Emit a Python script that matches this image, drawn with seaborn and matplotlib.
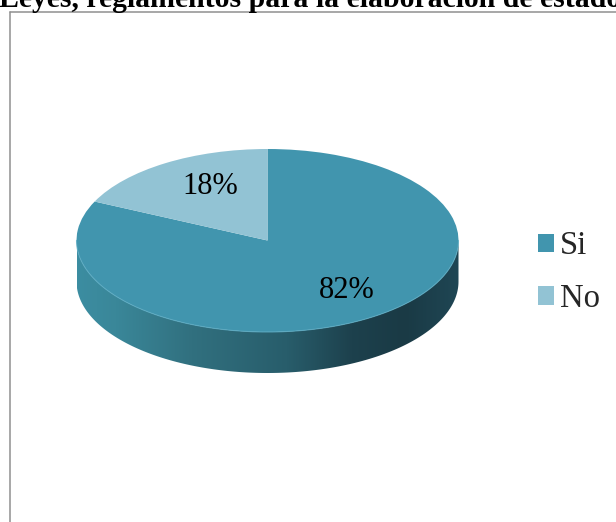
import numpy as np
import matplotlib
matplotlib.use("Agg")
import matplotlib.pyplot as plt
from matplotlib.colors import LinearSegmentedColormap
from matplotlib.patches import Polygon
from matplotlib.lines import Line2D
import seaborn as sns

# ---- data ----
categories = ["Si", "No"]
values = [82, 18]
slice_colors = ["#4195AE", "#92C3D4"]
title = "Leyes, reglamentos para la elaboración de estados financieros"

sns.set_theme(style="white")
plt.rcParams["font.family"] = ["Liberation Serif", "DejaVu Serif"]

W, H = 616, 522
fig = plt.figure(figsize=(W / 100, H / 100), dpi=100)
fig.patch.set_facecolor("white")
ax = fig.add_axes([0, 0, 1, 1])

# tilted-disc geometry (pixels)
cx, cy, rx, ry, depth = 267.5, 240.5, 191.0, 91.5, 41.0
d = depth / ry

# side wall of the disc (front half), shaded left to right
theta = np.linspace(np.pi, 2 * np.pi, 300)
top_x, top_y = np.cos(theta), np.sin(theta)
side = np.concatenate([np.column_stack([top_x, top_y]),
                       np.column_stack([top_x[::-1], top_y[::-1] - d])])
side_poly = Polygon(side, closed=True, facecolor="none", edgecolor="none")
ax.add_patch(side_poly)

side_cmap = LinearSegmentedColormap.from_list(
    "side",
    [(0.0, "#3C8DA1"), (0.10, "#3A8799"), (0.30, "#31707F"),
     (0.55, "#285D6B"), (0.72, "#1D414D"), (0.86, "#1A3A45"),
     (1.0, "#1F4654")])
grad = np.linspace(0, 1, 256)[None, :]
img = ax.imshow(grad, extent=(-1, 1, -1 - d, 0.05), aspect="auto",
                cmap=side_cmap, zorder=1, interpolation="bilinear")
img.set_clip_path(side_poly)

# top face
wedges, texts, autotexts = ax.pie(
    values, colors=slice_colors, startangle=90, counterclock=False,
    autopct=lambda p: f"{p:.0f}%", pctdistance=0.67, radius=1,
    center=(0, 0), frame=True,
    wedgeprops=dict(linewidth=0, zorder=2),
    textprops=dict(fontsize=22, color="black"))
for t in autotexts:
    x, y = t.get_position()
    # nudge labels to sit where the tilted view places them
    t.set_position((x + 11 / rx, y + 2 / ry))
    t.set_zorder(5)

# soft rim highlight along the front edge of the top face
ax.plot(top_x, top_y, color="#5AAAC2", lw=0.8, alpha=0.8, zorder=3)

ax.set_aspect("auto")
ax.set_xlim(-cx / rx, (W - cx) / rx)
ax.set_ylim((cy - H) / ry, cy / ry)
ax.axis("off")

# legend
fig.legend(wedges, categories, loc="upper left",
           bbox_to_anchor=(538 / W, 1 - 231 / H),
           frameon=False, fontsize=23.5, handlelength=0.5,
           handleheight=0.5, handletextpad=0.18, labelspacing=0.68,
           borderpad=0, borderaxespad=0)

# chart area border
border = "#8F8F8F"
fig.add_artist(Line2D([9.5 / W, 9.5 / W], [0, 1 - 11.5 / H],
                      color=border, lw=1.1, transform=fig.transFigure))
fig.add_artist(Line2D([9.5 / W, 1], [1 - 11.5 / H, 1 - 11.5 / H],
                      color=border, lw=1.1, transform=fig.transFigure))

# title
fig.text(-1 / W, 1 - 7 / H, title, fontsize=21.4, fontweight="bold",
         va="baseline", ha="left", color="black")

fig.savefig("out.png", dpi=100, facecolor="white")
